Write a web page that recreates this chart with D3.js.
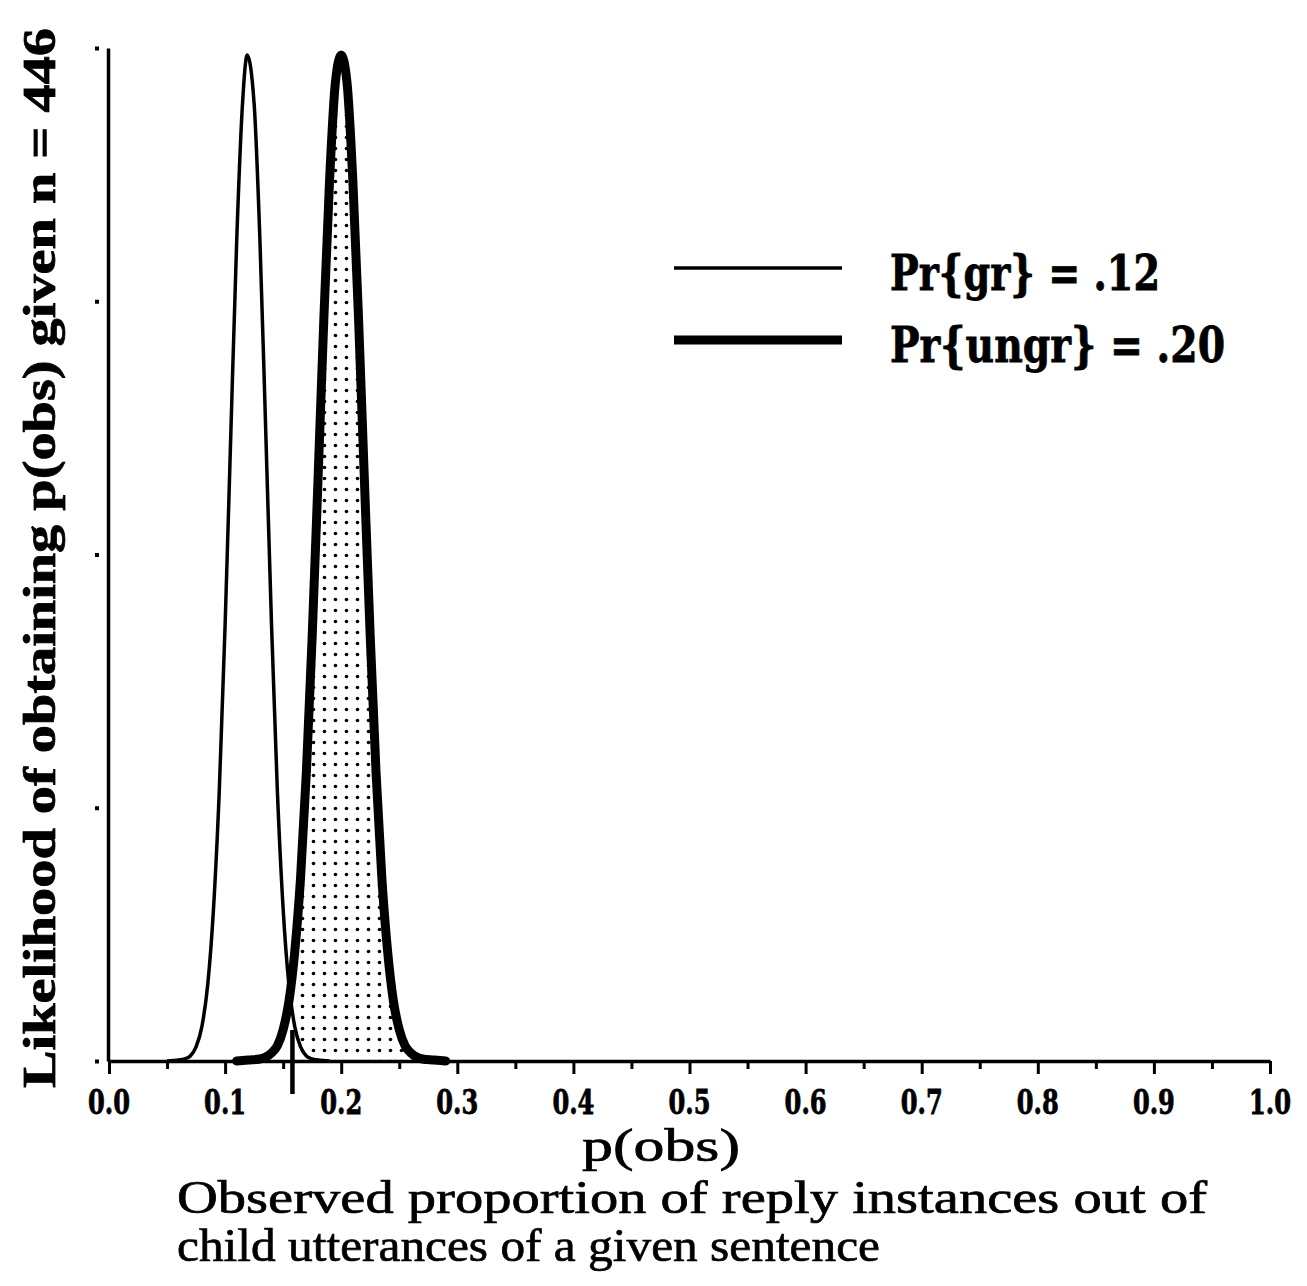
<!DOCTYPE html>
<html><head><meta charset="utf-8">
<script src="https://cdn.jsdelivr.net/npm/d3@7"></script>
<style>html,body{margin:0;padding:0;background:#fff;}</style>
</head><body>
<script>
// ---- data ----
const xTickValues = [0,0.1,0.2,0.3,0.4,0.5,0.6,0.7,0.8,0.9,1.0];
const xTickLabels = ["0.0","0.1","0.2","0.3","0.4","0.5","0.6","0.7","0.8","0.9","1.0"];
const yTickValues = [0,0.25,0.5,0.75,1.0];
const seriesNames = ["Pr{gr} = .12","Pr{ungr} = .20"];
const criterion = 0.158;
// Pr{gr} = .12 curve (p(obs), relative likelihood)
const grP = [0.050,0.060,0.065,0.070,0.075,0.080,0.085,0.090,0.095,0.100,0.105,0.110,0.115,0.119,0.125,0.130,0.135,0.140,0.145,0.150,0.155,0.160,0.165,0.170,0.175,0.180,0.190];
const grL = [0,0.001,0.002,0.005,0.014,0.034,0.075,0.150,0.267,0.430,0.622,0.810,0.945,0.993,0.945,0.810,0.622,0.430,0.267,0.150,0.075,0.034,0.014,0.005,0.002,0.001,0];
// Pr{ungr} = .20 curve
const ungrP = [0.110,0.120,0.130,0.135,0.140,0.145,0.150,0.155,0.160,0.165,0.170,0.175,0.180,0.185,0.190,0.195,0.200,0.205,0.210,0.215,0.220,0.225,0.230,0.235,0.240,0.245,0.250,0.255,0.260,0.265,0.270,0.280,0.290];
const ungrL = [0,0.001,0.002,0.004,0.008,0.015,0.031,0.059,0.108,0.181,0.285,0.419,0.573,0.731,0.870,0.966,0.993,0.966,0.870,0.731,0.573,0.419,0.285,0.181,0.108,0.059,0.031,0.015,0.008,0.004,0.002,0.001,0];

const W = 1307, H = 1286;
const svg = d3.select("body").append("svg").attr("width", W).attr("height", H);
const x = d3.scaleLinear().domain([0,1]).range([109,1270]);
const y = d3.scaleLinear().domain([0,1]).range([1061,48]);

const defs = svg.append("defs");
const pat = defs.append("pattern").attr("id","dots").attr("patternUnits","userSpaceOnUse")
  .attr("width",11).attr("height",11);
pat.append("circle").attr("cx",5.5).attr("cy",5.5).attr("r",1.8).attr("fill","#000");
defs.append("clipPath").attr("id","clipR").append("rect")
  .attr("x", x(criterion)+2).attr("y",0).attr("width",W).attr("height",H);

const grData = grP.map((p,i)=>({p, l: grL[i]}));
const ungrData = ungrP.map((p,i)=>({p, l: ungrL[i]}));

// shaded area under the ungr curve to the right of criterion
const area = d3.area().x(d=>x(d.p)).y0(y(0)).y1(d=>y(d.l)).curve(d3.curveMonotoneX);
svg.append("path").datum(ungrData).attr("d",area).attr("fill","url(#dots)").attr("clip-path","url(#clipR)");

const line = d3.line().x(d=>x(d.p)).y(d=>y(d.l)).curve(d3.curveMonotoneX);

// X axis
const xAxis = d3.axisBottom(x).tickValues(d3.range(0,1.0001,0.05)).tickSize(0).tickFormat("");
const gx = svg.append("g").attr("transform",`translate(0,${y(0)})`).call(xAxis);
gx.select(".domain").attr("stroke","#000").attr("stroke-width",3.5);
gx.selectAll(".tick").each(function(d){
  const major = Math.abs(Math.round(d*10)-d*10) < 1e-6;
  d3.select(this).select("line").attr("y2", major?13:8).attr("stroke","#000").attr("stroke-width",3);
});
// tick labels
svg.append("g").selectAll("text").data(xTickValues).join("text")
  .attr("x", d=>x(d)).attr("y", 1114)
  .attr("text-anchor","middle")
  .attr("font-family","'DejaVu Serif'").attr("font-weight","bold").attr("font-size",33)
  .attr("stroke","#000").attr("stroke-width",0.8)
  .attr("textLength",42).attr("lengthAdjust","spacingAndGlyphs")
  .text((d,i)=>xTickLabels[i]);

// Y axis line
const yAxis = d3.axisLeft(y).tickValues([]).tickSizeOuter(0);
const gy = svg.append("g").attr("transform","translate(108,0)").call(yAxis);
gy.select(".domain").attr("stroke","#000").attr("stroke-width",3.5);
// Y ticks (small detached marks)
const yTicks = d3.axisLeft(y).tickValues(yTickValues).tickSize(4).tickFormat("");
const gyt = svg.append("g").attr("transform","translate(99,0)").call(yTicks);
gyt.select(".domain").remove();
gyt.selectAll(".tick line").attr("stroke","#000").attr("stroke-width",4);

// curves
svg.append("path").datum(grData).attr("d",line).attr("fill","none").attr("stroke","#000")
  .attr("stroke-width",3.5).attr("stroke-linejoin","round");
svg.append("path").datum(ungrData).attr("d",line).attr("fill","none").attr("stroke","#000")
  .attr("stroke-width",9).attr("stroke-linejoin","round").attr("stroke-linecap","round");

// criterion marker
svg.append("line").attr("x1",x(criterion)).attr("x2",x(criterion))
  .attr("y1",1030).attr("y2",1094).attr("stroke","#000").attr("stroke-width",4.5);

// legend
const legY = [268, 340];
const legW = [3.5, 9];
const legTxtY = [290, 362];
const legLen = [270, 335];
seriesNames.forEach((s,i)=>{
  svg.append("line").attr("x1",674).attr("x2",842).attr("y1",legY[i]).attr("y2",legY[i])
    .attr("stroke","#000").attr("stroke-width",legW[i]);
  svg.append("text").attr("x",890).attr("y",legTxtY[i])
    .attr("font-family","'DejaVu Serif'").attr("font-weight","bold").attr("font-size",48)
    .attr("stroke","#000").attr("stroke-width",0.8)
    .attr("textLength",legLen[i]).attr("lengthAdjust","spacingAndGlyphs").text(s);
});

// axis titles
svg.append("text").attr("transform","translate(55,558) rotate(-90)")
  .attr("text-anchor","middle")
  .attr("font-family","'Liberation Serif'").attr("font-weight","bold").attr("font-size",47)
  .attr("stroke","#000").attr("stroke-width",0.8)
  .attr("textLength",1060).attr("lengthAdjust","spacingAndGlyphs")
  .text("Likelihood of obtaining p(obs) given n = 446");

svg.append("text").attr("x",661).attr("y",1161).attr("text-anchor","middle")
  .attr("font-family","'Liberation Serif'").attr("font-size",46)
  .attr("stroke","#000").attr("stroke-width",0.7)
  .attr("textLength",158).attr("lengthAdjust","spacingAndGlyphs").text("p(obs)");
svg.append("text").attr("x",177).attr("y",1213)
  .attr("font-family","'Liberation Serif'").attr("font-size",47)
  .attr("stroke","#000").attr("stroke-width",0.7)
  .attr("textLength",1030).attr("lengthAdjust","spacingAndGlyphs")
  .text("Observed proportion of reply instances out of");
svg.append("text").attr("x",177).attr("y",1261)
  .attr("font-family","'Liberation Serif'").attr("font-size",47)
  .attr("stroke","#000").attr("stroke-width",0.7)
  .attr("textLength",703).attr("lengthAdjust","spacingAndGlyphs")
  .text("child utterances of a given sentence");
</script>
</body></html>
